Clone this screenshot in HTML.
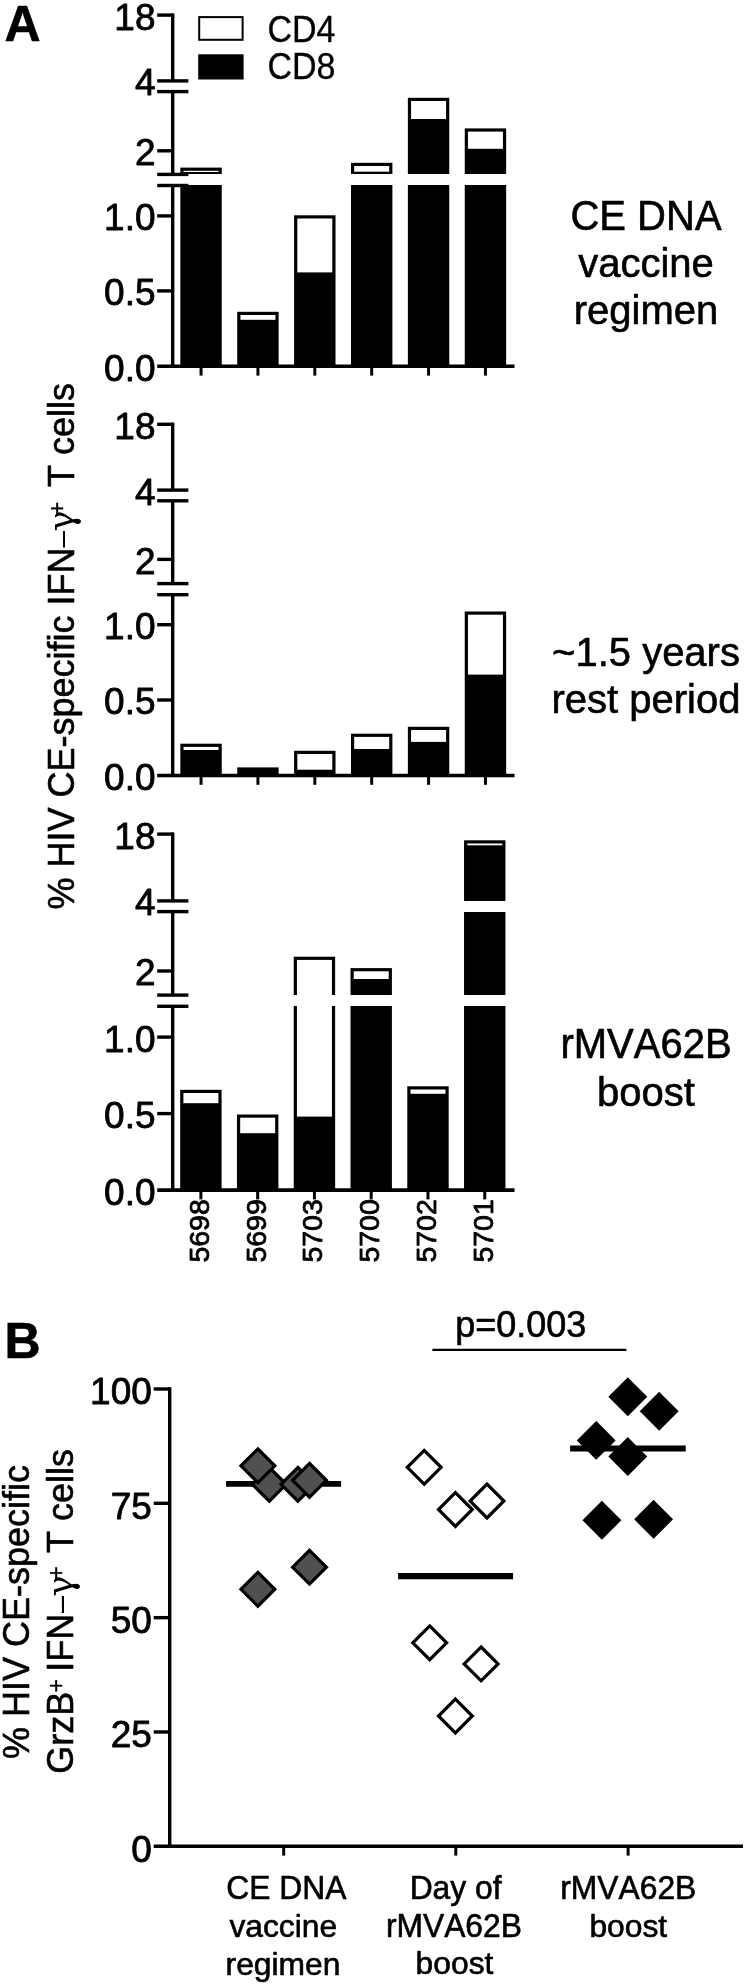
<!DOCTYPE html>
<html><head><meta charset="utf-8"><title>Figure</title>
<style>html,body{margin:0;padding:0;background:#fff}svg{display:block}</style></head>
<body>
<svg width="746" height="1985" viewBox="0 0 746 1985" font-family='"Liberation Sans", sans-serif' fill="#000" style="will-change:transform;font-kerning:none;filter:blur(0.45px)">
<rect width="746" height="1985" fill="#fff"/>
<text x="4.60" y="40.90" font-size="50" text-anchor="start" stroke="#000" stroke-width="0.6" stroke-linejoin="round" font-weight="bold">A</text>
<text x="4.40" y="1357.70" font-size="50" text-anchor="start" stroke="#000" stroke-width="0.6" stroke-linejoin="round" font-weight="bold">B</text>
<rect x="199.2" y="17.1" width="43.4" height="22.7" fill="#fff" stroke="#000" stroke-width="2"/>
<rect x="198.2" y="54.3" width="45.4" height="25.2" fill="#000"/>
<text transform="translate(267.50,41.50) scale(1,1.07)" font-size="34.0" text-anchor="start" stroke="#000" stroke-width="0.3" stroke-linejoin="round" >CD4</text>
<text transform="translate(267.50,78.90) scale(1,1.07)" font-size="34.0" text-anchor="start" stroke="#000" stroke-width="0.3" stroke-linejoin="round" >CD8</text>
<line x1="172.70" y1="13.40" x2="172.70" y2="80.90" stroke="#000" stroke-width="3.4" />
<line x1="172.70" y1="91.60" x2="172.70" y2="174.40" stroke="#000" stroke-width="3.4" />
<line x1="172.70" y1="185.50" x2="172.70" y2="366.30" stroke="#000" stroke-width="3.4" />
<line x1="157.20" y1="15.10" x2="172.70" y2="15.10" stroke="#000" stroke-width="3.4" />
<line x1="157.20" y1="150.80" x2="172.70" y2="150.80" stroke="#000" stroke-width="3.4" />
<line x1="157.20" y1="215.90" x2="172.70" y2="215.90" stroke="#000" stroke-width="3.4" />
<line x1="157.20" y1="290.90" x2="172.70" y2="290.90" stroke="#000" stroke-width="3.4" />
<line x1="157.20" y1="80.90" x2="188.40" y2="80.90" stroke="#000" stroke-width="3.4" />
<line x1="157.20" y1="91.60" x2="188.40" y2="91.60" stroke="#000" stroke-width="3.4" />
<line x1="157.20" y1="174.40" x2="188.40" y2="174.40" stroke="#000" stroke-width="3.4" />
<line x1="157.20" y1="185.50" x2="188.40" y2="185.50" stroke="#000" stroke-width="3.4" />
<line x1="157.20" y1="366.30" x2="514.50" y2="366.30" stroke="#000" stroke-width="3.6" />
<line x1="201.05" y1="366.30" x2="201.05" y2="375.60" stroke="#000" stroke-width="3.0" />
<line x1="257.93" y1="366.30" x2="257.93" y2="375.60" stroke="#000" stroke-width="3.0" />
<line x1="314.81" y1="366.30" x2="314.81" y2="375.60" stroke="#000" stroke-width="3.0" />
<line x1="371.69" y1="366.30" x2="371.69" y2="375.60" stroke="#000" stroke-width="3.0" />
<line x1="428.57" y1="366.30" x2="428.57" y2="375.60" stroke="#000" stroke-width="3.0" />
<line x1="485.45" y1="366.30" x2="485.45" y2="375.60" stroke="#000" stroke-width="3.0" />
<text x="155.50" y="29.50" font-size="37" text-anchor="end" stroke="#000" stroke-width="0.8" stroke-linejoin="round" >18</text>
<text x="155.50" y="95.30" font-size="37" text-anchor="end" stroke="#000" stroke-width="0.8" stroke-linejoin="round" >4</text>
<text x="155.50" y="165.20" font-size="37" text-anchor="end" stroke="#000" stroke-width="0.8" stroke-linejoin="round" >2</text>
<text x="155.50" y="230.30" font-size="37" text-anchor="end" stroke="#000" stroke-width="0.8" stroke-linejoin="round" >1.0</text>
<text x="155.50" y="305.30" font-size="37" text-anchor="end" stroke="#000" stroke-width="0.8" stroke-linejoin="round" >0.5</text>
<text x="155.50" y="380.70" font-size="37" text-anchor="end" stroke="#000" stroke-width="0.8" stroke-linejoin="round" >0.0</text>
<clipPath id="clip1"><rect x="150" y="-4" width="400" height="85"/><rect x="150" y="92" width="400" height="82"/><rect x="150" y="185" width="400" height="184"/></clipPath>
<g clip-path="url(#clip1)">
<rect x="180.35" y="167.60" width="41.4" height="198.70" fill="#000"/>
<rect x="183.55" y="170.80" width="35.00" height="1.20" fill="#fff"/>
<rect x="237.23" y="311.80" width="41.4" height="54.50" fill="#000"/>
<rect x="240.43" y="315.00" width="35.00" height="4.80" fill="#fff"/>
<rect x="294.11" y="215.30" width="41.4" height="151.00" fill="#000"/>
<rect x="297.31" y="218.50" width="35.00" height="53.90" fill="#fff"/>
<rect x="350.99" y="162.80" width="41.4" height="203.50" fill="#000"/>
<rect x="354.19" y="166.00" width="35.00" height="5.70" fill="#fff"/>
<rect x="407.87" y="97.80" width="41.4" height="268.50" fill="#000"/>
<rect x="411.07" y="101.00" width="35.00" height="18.00" fill="#fff"/>
<rect x="464.75" y="128.40" width="41.4" height="237.90" fill="#000"/>
<rect x="467.95" y="131.60" width="35.00" height="17.20" fill="#fff"/>
</g>
<line x1="172.70" y1="422.60" x2="172.70" y2="490.10" stroke="#000" stroke-width="3.4" />
<line x1="172.70" y1="500.80" x2="172.70" y2="583.60" stroke="#000" stroke-width="3.4" />
<line x1="172.70" y1="594.70" x2="172.70" y2="775.50" stroke="#000" stroke-width="3.4" />
<line x1="157.20" y1="424.30" x2="172.70" y2="424.30" stroke="#000" stroke-width="3.4" />
<line x1="157.20" y1="559.40" x2="172.70" y2="559.40" stroke="#000" stroke-width="3.4" />
<line x1="157.20" y1="624.70" x2="172.70" y2="624.70" stroke="#000" stroke-width="3.4" />
<line x1="157.20" y1="700.00" x2="172.70" y2="700.00" stroke="#000" stroke-width="3.4" />
<line x1="157.20" y1="490.10" x2="188.40" y2="490.10" stroke="#000" stroke-width="3.4" />
<line x1="157.20" y1="500.80" x2="188.40" y2="500.80" stroke="#000" stroke-width="3.4" />
<line x1="157.20" y1="583.60" x2="188.40" y2="583.60" stroke="#000" stroke-width="3.4" />
<line x1="157.20" y1="594.70" x2="188.40" y2="594.70" stroke="#000" stroke-width="3.4" />
<line x1="157.20" y1="775.50" x2="514.50" y2="775.50" stroke="#000" stroke-width="3.6" />
<line x1="201.05" y1="775.50" x2="201.05" y2="784.80" stroke="#000" stroke-width="3.0" />
<line x1="257.93" y1="775.50" x2="257.93" y2="784.80" stroke="#000" stroke-width="3.0" />
<line x1="314.81" y1="775.50" x2="314.81" y2="784.80" stroke="#000" stroke-width="3.0" />
<line x1="371.69" y1="775.50" x2="371.69" y2="784.80" stroke="#000" stroke-width="3.0" />
<line x1="428.57" y1="775.50" x2="428.57" y2="784.80" stroke="#000" stroke-width="3.0" />
<line x1="485.45" y1="775.50" x2="485.45" y2="784.80" stroke="#000" stroke-width="3.0" />
<text x="155.50" y="438.70" font-size="37" text-anchor="end" stroke="#000" stroke-width="0.8" stroke-linejoin="round" >18</text>
<text x="155.50" y="504.50" font-size="37" text-anchor="end" stroke="#000" stroke-width="0.8" stroke-linejoin="round" >4</text>
<text x="155.50" y="573.80" font-size="37" text-anchor="end" stroke="#000" stroke-width="0.8" stroke-linejoin="round" >2</text>
<text x="155.50" y="639.10" font-size="37" text-anchor="end" stroke="#000" stroke-width="0.8" stroke-linejoin="round" >1.0</text>
<text x="155.50" y="714.40" font-size="37" text-anchor="end" stroke="#000" stroke-width="0.8" stroke-linejoin="round" >0.5</text>
<text x="155.50" y="789.90" font-size="37" text-anchor="end" stroke="#000" stroke-width="0.8" stroke-linejoin="round" >0.0</text>
<clipPath id="clip2"><rect x="150" y="404" width="400" height="87"/><rect x="150" y="501" width="400" height="83"/><rect x="150" y="594" width="400" height="184"/></clipPath>
<g clip-path="url(#clip2)">
<rect x="180.35" y="743.70" width="41.4" height="31.80" fill="#000"/>
<rect x="183.55" y="746.90" width="35.00" height="3.10" fill="#fff"/>
<rect x="237.23" y="767.40" width="41.4" height="8.10" fill="#000"/>
<rect x="294.11" y="750.80" width="41.4" height="24.70" fill="#000"/>
<rect x="297.31" y="754.00" width="35.00" height="15.70" fill="#fff"/>
<rect x="350.99" y="733.70" width="41.4" height="41.80" fill="#000"/>
<rect x="354.19" y="736.90" width="35.00" height="12.10" fill="#fff"/>
<rect x="407.87" y="726.80" width="41.4" height="48.70" fill="#000"/>
<rect x="411.07" y="730.00" width="35.00" height="11.90" fill="#fff"/>
<rect x="464.75" y="611.50" width="41.4" height="164.00" fill="#000"/>
<rect x="467.95" y="614.70" width="35.00" height="59.90" fill="#fff"/>
</g>
<line x1="172.70" y1="832.40" x2="172.70" y2="900.90" stroke="#000" stroke-width="3.4" />
<line x1="172.70" y1="911.60" x2="172.70" y2="995.10" stroke="#000" stroke-width="3.4" />
<line x1="172.70" y1="1006.30" x2="172.70" y2="1190.10" stroke="#000" stroke-width="3.4" />
<line x1="157.20" y1="834.10" x2="172.70" y2="834.10" stroke="#000" stroke-width="3.4" />
<line x1="157.20" y1="971.00" x2="172.70" y2="971.00" stroke="#000" stroke-width="3.4" />
<line x1="157.20" y1="1037.10" x2="172.70" y2="1037.10" stroke="#000" stroke-width="3.4" />
<line x1="157.20" y1="1113.60" x2="172.70" y2="1113.60" stroke="#000" stroke-width="3.4" />
<line x1="157.20" y1="900.90" x2="188.40" y2="900.90" stroke="#000" stroke-width="3.4" />
<line x1="157.20" y1="911.60" x2="188.40" y2="911.60" stroke="#000" stroke-width="3.4" />
<line x1="157.20" y1="995.10" x2="188.40" y2="995.10" stroke="#000" stroke-width="3.4" />
<line x1="157.20" y1="1006.30" x2="188.40" y2="1006.30" stroke="#000" stroke-width="3.4" />
<line x1="157.20" y1="1190.10" x2="514.50" y2="1190.10" stroke="#000" stroke-width="3.6" />
<line x1="200.90" y1="1190.10" x2="200.90" y2="1199.40" stroke="#000" stroke-width="3.0" />
<line x1="257.67" y1="1190.10" x2="257.67" y2="1199.40" stroke="#000" stroke-width="3.0" />
<line x1="314.44" y1="1190.10" x2="314.44" y2="1199.40" stroke="#000" stroke-width="3.0" />
<line x1="371.21" y1="1190.10" x2="371.21" y2="1199.40" stroke="#000" stroke-width="3.0" />
<line x1="427.98" y1="1190.10" x2="427.98" y2="1199.40" stroke="#000" stroke-width="3.0" />
<line x1="484.75" y1="1190.10" x2="484.75" y2="1199.40" stroke="#000" stroke-width="3.0" />
<text x="155.50" y="848.50" font-size="37" text-anchor="end" stroke="#000" stroke-width="0.8" stroke-linejoin="round" >18</text>
<text x="155.50" y="915.30" font-size="37" text-anchor="end" stroke="#000" stroke-width="0.8" stroke-linejoin="round" >4</text>
<text x="155.50" y="985.40" font-size="37" text-anchor="end" stroke="#000" stroke-width="0.8" stroke-linejoin="round" >2</text>
<text x="155.50" y="1051.50" font-size="37" text-anchor="end" stroke="#000" stroke-width="0.8" stroke-linejoin="round" >1.0</text>
<text x="155.50" y="1128.00" font-size="37" text-anchor="end" stroke="#000" stroke-width="0.8" stroke-linejoin="round" >0.5</text>
<text x="155.50" y="1204.50" font-size="37" text-anchor="end" stroke="#000" stroke-width="0.8" stroke-linejoin="round" >0.0</text>
<clipPath id="clip3"><rect x="150" y="814" width="400" height="87"/><rect x="150" y="912" width="400" height="83"/><rect x="150" y="1006" width="400" height="187"/></clipPath>
<g clip-path="url(#clip3)">
<rect x="180.20" y="1089.80" width="41.4" height="100.30" fill="#000"/>
<rect x="183.40" y="1093.00" width="35.00" height="10.20" fill="#fff"/>
<rect x="236.97" y="1114.50" width="41.4" height="75.60" fill="#000"/>
<rect x="240.17" y="1117.70" width="35.00" height="15.50" fill="#fff"/>
<rect x="293.74" y="956.70" width="41.4" height="233.40" fill="#000"/>
<rect x="296.94" y="959.90" width="35.00" height="156.70" fill="#fff"/>
<rect x="350.51" y="968.10" width="41.4" height="222.00" fill="#000"/>
<rect x="353.71" y="971.30" width="35.00" height="7.70" fill="#fff"/>
<rect x="407.28" y="1086.30" width="41.4" height="103.80" fill="#000"/>
<rect x="410.48" y="1089.50" width="35.00" height="4.30" fill="#fff"/>
<rect x="464.05" y="840.30" width="41.4" height="349.80" fill="#000"/>
<rect x="467.25" y="843.50" width="35.00" height="1.80" fill="#fff"/>
</g>
<text transform="translate(208.90,1262.6) rotate(-90)" font-size="28.5" stroke="#000" stroke-width="0.8" stroke-linejoin="round">5698</text>
<text transform="translate(265.67,1262.6) rotate(-90)" font-size="28.5" stroke="#000" stroke-width="0.8" stroke-linejoin="round">5699</text>
<text transform="translate(322.44,1262.6) rotate(-90)" font-size="28.5" stroke="#000" stroke-width="0.8" stroke-linejoin="round">5703</text>
<text transform="translate(379.21,1262.6) rotate(-90)" font-size="28.5" stroke="#000" stroke-width="0.8" stroke-linejoin="round">5700</text>
<text transform="translate(435.98,1262.6) rotate(-90)" font-size="28.5" stroke="#000" stroke-width="0.8" stroke-linejoin="round">5702</text>
<text transform="translate(492.75,1262.6) rotate(-90)" font-size="28.5" stroke="#000" stroke-width="0.8" stroke-linejoin="round">5701</text>
<g transform="translate(74.0,909.5) rotate(-90)" font-size="36" stroke="#000" stroke-width="0.6" stroke-linejoin="round">
<text x="0" y="0">% HIV CE-specific IFN</text>
<text x="362.0" y="-2.0" font-size="29.5" stroke="none">–</text>
<text x="378.0" y="0" font-size="35" font-family="'DejaVu Serif', 'Liberation Serif', serif" stroke="none">γ</text>
<text x="394.2" y="-9.1" font-size="23" stroke-width="0.4">+</text>
<text x="422.5" y="0">T cells</text>
</g>
<text transform="translate(646.00,229.70) scale(1,1.08)" font-size="40" text-anchor="middle" stroke="#000" stroke-width="0.6" stroke-linejoin="round" >CE DNA</text>
<text x="646.00" y="277.00" font-size="40" text-anchor="middle" stroke="#000" stroke-width="0.6" stroke-linejoin="round" >vaccine</text>
<text x="646.00" y="324.20" font-size="40" text-anchor="middle" stroke="#000" stroke-width="0.6" stroke-linejoin="round" >regimen</text>
<text x="646.00" y="666.30" font-size="40" text-anchor="middle" stroke="#000" stroke-width="0.6" stroke-linejoin="round" >~1.5 years</text>
<text x="646.00" y="713.20" font-size="40" text-anchor="middle" stroke="#000" stroke-width="0.6" stroke-linejoin="round" >rest period</text>
<text transform="translate(646.00,1058.00) scale(1,1.08)" font-size="40" text-anchor="middle" stroke="#000" stroke-width="0.6" stroke-linejoin="round" >rMVA62B</text>
<text x="646.00" y="1105.50" font-size="40" text-anchor="middle" stroke="#000" stroke-width="0.6" stroke-linejoin="round" >boost</text>
<line x1="169.70" y1="1387.30" x2="169.70" y2="1846.30" stroke="#000" stroke-width="3.4" />
<line x1="153.70" y1="1846.30" x2="743.00" y2="1846.30" stroke="#000" stroke-width="3.6" />
<line x1="153.70" y1="1389.00" x2="169.70" y2="1389.00" stroke="#000" stroke-width="3.4" />
<text x="151.80" y="1404.30" font-size="37" text-anchor="end" stroke="#000" stroke-width="0.8" stroke-linejoin="round" >100</text>
<line x1="153.70" y1="1503.32" x2="169.70" y2="1503.32" stroke="#000" stroke-width="3.4" />
<text x="151.80" y="1518.62" font-size="37" text-anchor="end" stroke="#000" stroke-width="0.8" stroke-linejoin="round" >75</text>
<line x1="153.70" y1="1617.65" x2="169.70" y2="1617.65" stroke="#000" stroke-width="3.4" />
<text x="151.80" y="1632.95" font-size="37" text-anchor="end" stroke="#000" stroke-width="0.8" stroke-linejoin="round" >50</text>
<line x1="153.70" y1="1731.97" x2="169.70" y2="1731.97" stroke="#000" stroke-width="3.4" />
<text x="151.80" y="1747.27" font-size="37" text-anchor="end" stroke="#000" stroke-width="0.8" stroke-linejoin="round" >25</text>
<text x="151.80" y="1861.90" font-size="37" text-anchor="end" stroke="#000" stroke-width="0.8" stroke-linejoin="round" >0</text>
<line x1="283.70" y1="1846.30" x2="283.70" y2="1855.60" stroke="#000" stroke-width="3.0" />
<line x1="455.80" y1="1846.30" x2="455.80" y2="1855.60" stroke="#000" stroke-width="3.0" />
<line x1="628.10" y1="1846.30" x2="628.10" y2="1855.60" stroke="#000" stroke-width="3.0" />
<text transform="translate(520.80,1336.60) scale(1,1.05)" font-size="36" text-anchor="middle" stroke="#000" stroke-width="0.6" stroke-linejoin="round" >p=0.003</text>
<line x1="432.40" y1="1349.90" x2="626.40" y2="1349.90" stroke="#000" stroke-width="2.2" />
<line x1="226.10" y1="1483.90" x2="341.10" y2="1483.90" stroke="#000" stroke-width="5.8" />
<line x1="398.10" y1="1576.20" x2="513.10" y2="1576.20" stroke="#000" stroke-width="6.2" />
<line x1="570.10" y1="1448.50" x2="685.70" y2="1448.50" stroke="#000" stroke-width="6.2" />
<path d="M269.3 1467.4L286.2 1484.3L269.3 1501.2L252.4 1484.3Z" fill="#505050" stroke="#000" stroke-width="3.2"/>
<path d="M257.9 1448.9L274.8 1465.8L257.9 1482.7L241.0 1465.8Z" fill="#505050" stroke="#000" stroke-width="3.2"/>
<path d="M297.9 1467.4L314.8 1484.3L297.9 1501.2L281.0 1484.3Z" fill="#505050" stroke="#000" stroke-width="3.2"/>
<path d="M309.5 1463.4L326.4 1480.3L309.5 1497.2L292.6 1480.3Z" fill="#505050" stroke="#000" stroke-width="3.2"/>
<path d="M309.5 1550.3L326.4 1567.2L309.5 1584.1L292.6 1567.2Z" fill="#505050" stroke="#000" stroke-width="3.2"/>
<path d="M257.9 1572.4L274.8 1589.3L257.9 1606.2L241.0 1589.3Z" fill="#505050" stroke="#000" stroke-width="3.2"/>
<path d="M424.2 1450.4L441.1 1467.3L424.2 1484.2L407.3 1467.3Z" fill="#fff" stroke="#000" stroke-width="3.2"/>
<path d="M455.4 1492.6L472.3 1509.5L455.4 1526.4L438.5 1509.5Z" fill="#fff" stroke="#000" stroke-width="3.2"/>
<path d="M487.0 1484.1L503.9 1501.0L487.0 1517.9L470.1 1501.0Z" fill="#fff" stroke="#000" stroke-width="3.2"/>
<path d="M429.7 1625.9L446.6 1642.8L429.7 1659.7L412.8 1642.8Z" fill="#fff" stroke="#000" stroke-width="3.2"/>
<path d="M481.1 1647.0L498.0 1663.9L481.1 1680.8L464.2 1663.9Z" fill="#fff" stroke="#000" stroke-width="3.2"/>
<path d="M455.4 1699.1L472.3 1716.0L455.4 1732.9L438.5 1716.0Z" fill="#fff" stroke="#000" stroke-width="3.2"/>
<path d="M627.8 1379.6L645.0 1396.8L627.8 1414.0L610.6 1396.8Z" fill="#000" stroke="#000" stroke-width="3.2"/>
<path d="M659.2 1394.1L676.4 1411.3L659.2 1428.5L642.0 1411.3Z" fill="#000" stroke="#000" stroke-width="3.2"/>
<path d="M596.2 1423.2L613.4 1440.4L596.2 1457.6L579.0 1440.4Z" fill="#000" stroke="#000" stroke-width="3.2"/>
<path d="M627.8 1439.3L645.0 1456.5L627.8 1473.7L610.6 1456.5Z" fill="#000" stroke="#000" stroke-width="3.2"/>
<path d="M601.9 1503.1L619.1 1520.3L601.9 1537.5L584.7 1520.3Z" fill="#000" stroke="#000" stroke-width="3.2"/>
<path d="M653.6 1502.1L670.8 1519.3L653.6 1536.5L636.4 1519.3Z" fill="#000" stroke="#000" stroke-width="3.2"/>
<text transform="translate(286.40,1898.70) scale(1,1.07)" font-size="31.8" text-anchor="middle" stroke="#000" stroke-width="0.6" stroke-linejoin="round" >CE DNA</text>
<text x="283.30" y="1937.20" font-size="31.8" text-anchor="middle" stroke="#000" stroke-width="0.6" stroke-linejoin="round" >vaccine</text>
<text x="283.00" y="1974.60" font-size="31.8" text-anchor="middle" stroke="#000" stroke-width="0.6" stroke-linejoin="round" >regimen</text>
<text transform="translate(455.60,1898.50) scale(1,1.03)" font-size="31.8" text-anchor="middle" stroke="#000" stroke-width="0.6" stroke-linejoin="round" >Day of</text>
<text transform="translate(453.90,1937.40) scale(1,1.07)" font-size="31.8" text-anchor="middle" stroke="#000" stroke-width="0.6" stroke-linejoin="round" >rMVA62B</text>
<text x="454.50" y="1974.20" font-size="31.8" text-anchor="middle" stroke="#000" stroke-width="0.6" stroke-linejoin="round" >boost</text>
<text transform="translate(628.30,1898.70) scale(1,1.07)" font-size="31.8" text-anchor="middle" stroke="#000" stroke-width="0.6" stroke-linejoin="round" >rMVA62B</text>
<text x="628.30" y="1937.20" font-size="31.8" text-anchor="middle" stroke="#000" stroke-width="0.6" stroke-linejoin="round" >boost</text>
<text transform="translate(29.1,1759.0) rotate(-90)" font-size="36" stroke="#000" stroke-width="0.6" stroke-linejoin="round">% HIV CE-specific</text>
<g transform="translate(72.8,1773.8) rotate(-90)" font-size="36" stroke="#000" stroke-width="0.6" stroke-linejoin="round">
<text x="0" y="0">GrzB</text>
<text x="81.2" y="-8.8" font-size="23" stroke-width="0.4">+</text>
<text x="102.1" y="0">IFN</text>
<text x="160.7" y="-2.0" font-size="30.5" stroke="none">–</text>
<text x="177.3" y="0" font-size="35" font-family="'DejaVu Serif', 'Liberation Serif', serif" stroke="none">γ</text>
<text x="194.0" y="-8.8" font-size="23" stroke-width="0.4">+</text>
<text x="220.8" y="0">T cells</text>
</g>
</svg>
</body></html>
